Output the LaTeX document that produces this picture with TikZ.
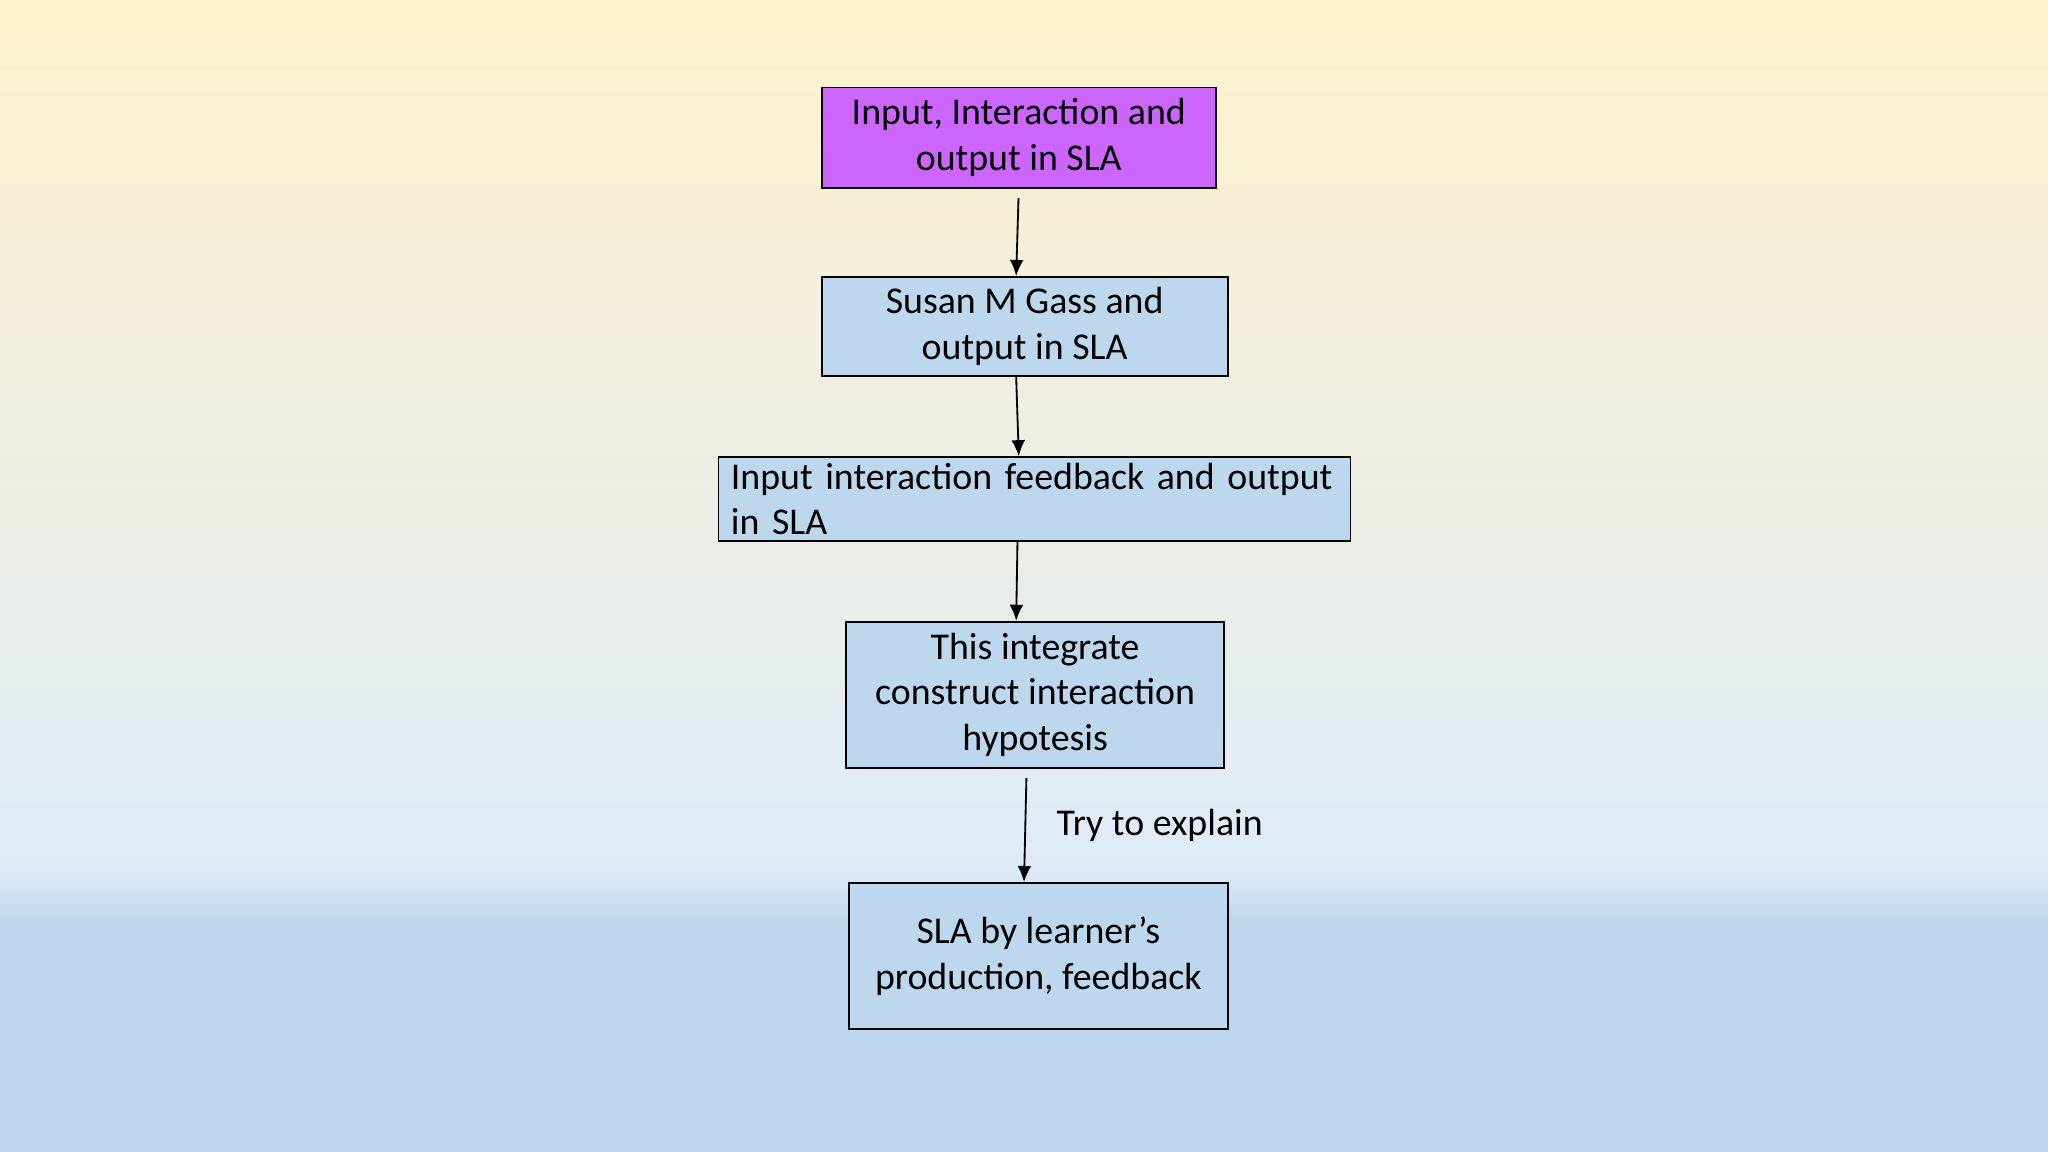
\documentclass[tikz,border=0pt]{standalone}
\usepackage{fontspec}
\setmainfont{Carlito}
\usetikzlibrary{arrows.meta}
\definecolor{boxblue}{HTML}{BDD7EE}
\definecolor{boxpurple}{HTML}{CC66FF}
\definecolor{topyel}{HTML}{FFF2CC}
\definecolor{midblue}{HTML}{DEEBF7}
\begin{document}
\begin{tikzpicture}[x=0.02cm,y=-0.02cm,
  box/.style={draw=black, fill=boxblue, line width=0.8pt, inner sep=0pt,
    font=\fontsize{16.5}{20}\selectfont, align=center},
  arr/.style={-{Latex[length=7pt,width=6pt]}, line width=0.8pt, shorten <=4pt}
]
% background
\fill[top color=topyel, bottom color=midblue] (0,0) rectangle (1568,665);
\fill[top color=midblue, bottom color=boxblue] (0,665) rectangle (1568,705);
\fill[boxblue] (0,705) rectangle (1568,882);
\useasboundingbox (0,0) rectangle (1568,882);

\node[box, fill=boxpurple, minimum width=6.04cm, minimum height=1.54cm] (n1) at (780,105.5) {Input, Interaction and\\output in SLA};
\node[box, minimum width=6.22cm, minimum height=1.52cm] (n2) at (784.5,250) {Susan M Gass and\\output in SLA};
\node[box, minimum width=9.68cm, minimum height=1.28cm, align=left, text width=9.3cm] (n3) at (792,382) {Input interaction feedback and output\\in SLA};
\node[box, minimum width=5.78cm, minimum height=2.24cm] (n4) at (792.5,532) {This integrate\\construct interaction\\hypotesis};
\node[box, minimum width=5.8cm, minimum height=2.24cm] (n5) at (795,732) {SLA by learner’s\\production, feedback};

\draw[arr] (n1.south -| 780,0) -- (n2.north -| 778,0);
\draw[arr, shorten <=0pt] (n2.south -| 778,0) -- (n3.north -| 780,0);
\draw[arr, shorten <=0pt] (n3.south -| 779,0) -- (n4.north -| 778,0);
\draw[arr] (n4.south -| 786,0) -- node[right=0.35cm, font=\fontsize{16.5}{20}\selectfont] (lb) {Try to explain} (n5.north -| 784,0);
\end{tikzpicture}
\end{document}
